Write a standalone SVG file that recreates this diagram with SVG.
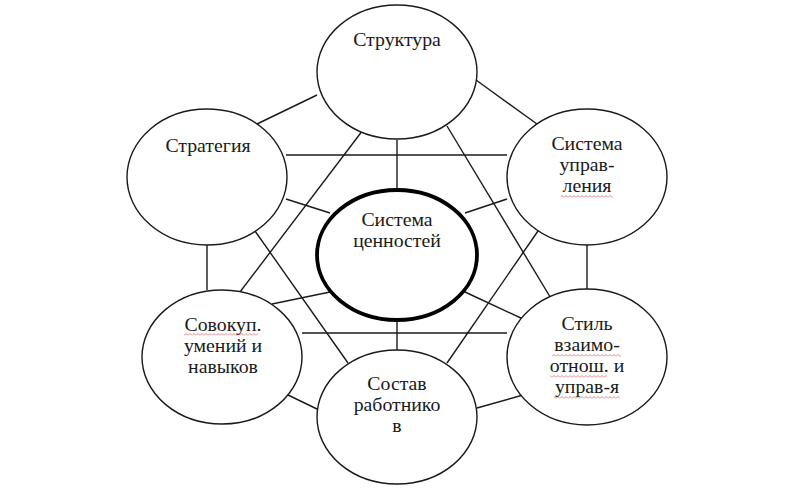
<svg xmlns="http://www.w3.org/2000/svg" width="800" height="500" viewBox="0 0 800 500">
<defs>
<style>
.n{fill:#fff;stroke:#1a1a1a;stroke-width:1.4}
.c{fill:#fff;stroke:#000;stroke-width:3.8}
.t{font-family:"Liberation Serif","Times New Roman",serif;font-size:18px;fill:#1a1a1a;text-anchor:middle}
#edges line{stroke:#1a1a1a;stroke-width:1.4}
.sq{fill:url(#wave)}
</style>
<pattern id="wave" width="4" height="3" patternUnits="userSpaceOnUse">
<path d="M0 2.5 L2 0.5 L4 2.5" fill="none" stroke="#d05050" stroke-width="0.7"/>
</pattern>
</defs>
<rect width="800" height="500" fill="#fff"/>
<g id="edges">
<line x1="257" y1="124" x2="317" y2="95"/>
<line x1="476" y1="80" x2="537" y2="124"/>
<line x1="397" y1="140" x2="397" y2="190"/>
<line x1="286" y1="155" x2="507" y2="155"/>
<line x1="286" y1="199" x2="330" y2="213"/>
<line x1="507" y1="199" x2="465" y2="213"/>
<line x1="207" y1="245" x2="207" y2="290"/>
<line x1="587" y1="245" x2="587" y2="290"/>
<line x1="272" y1="304" x2="330" y2="292"/>
<line x1="465" y1="292" x2="523" y2="319"/>
<line x1="302" y1="333" x2="507" y2="333"/>
<line x1="397" y1="320" x2="397" y2="350"/>
<line x1="288" y1="395" x2="317" y2="409"/>
<line x1="477" y1="408" x2="523" y2="395"/>
<line x1="366" y1="126" x2="240" y2="292"/>
<line x1="447" y1="126" x2="555" y2="305"/>
<line x1="255" y1="231" x2="348" y2="363"/>
<line x1="538" y1="231" x2="447" y2="363"/>
</g>
<g id="struktura">
<ellipse class="n" cx="397" cy="72" rx="80" ry="67"/>
<g transform="translate(397 0) scale(1.1 1)"><text class="t" x="0" y="46">Структура</text></g>
</g>
<g id="strategiya">
<ellipse class="n" cx="207" cy="177" rx="80" ry="68"/>
<g transform="translate(208 0) scale(1.1 1)"><text class="t" x="0" y="152">Стратегия</text></g>
</g>
<g id="sistema-upravleniya">
<ellipse class="n" cx="587" cy="177" rx="80" ry="68"/>
<g transform="translate(587 0) scale(1.1 1)">
<text class="t" x="0" y="150">Система</text>
<text class="t" x="0" y="171">управ-</text>
<text class="t" x="0" y="192">ления</text>
</g>
<rect class="sq" x="561" y="195" width="52" height="3"/>
</g>
<g id="sistema-cennostey">
<ellipse class="c" cx="397" cy="255" rx="80" ry="65"/>
<g transform="translate(397 0) scale(1.1 1)">
<text class="t" x="0" y="226">Система</text>
<text class="t" x="0" y="247">ценностей</text>
</g>
</g>
<g id="sovokup">
<ellipse class="n" cx="222" cy="357" rx="80" ry="67"/>
<g transform="translate(223 0) scale(1.1 1)">
<text class="t" x="0" y="331">Совокуп.</text>
<text class="t" x="0" y="352">умений и</text>
<text class="t" x="0" y="373">навыков</text>
</g>
<rect class="sq" x="184" y="333" width="74" height="3"/>
</g>
<g id="sostav">
<ellipse class="n" cx="397" cy="417" rx="80" ry="67"/>
<g transform="translate(397 0) scale(1.1 1)">
<text class="t" x="0" y="390">Состав</text>
<text class="t" x="0" y="411">работнико</text>
<text class="t" x="0" y="432">в</text>
</g>
</g>
<g id="stil">
<ellipse class="n" cx="587" cy="357" rx="80" ry="68"/>
<g transform="translate(587 0) scale(1.1 1)">
<text class="t" x="0" y="330">Стиль</text>
<text class="t" x="0" y="351">взаимо-</text>
<text class="t" x="0" y="372">отнош. и</text>
<text class="t" x="0" y="393">управ-я</text>
</g>
<rect class="sq" x="552" y="354" width="69" height="3"/>
<rect class="sq" x="550" y="375" width="57" height="3"/>
<rect class="sq" x="554" y="396" width="66" height="3"/>
</g>
</svg>
